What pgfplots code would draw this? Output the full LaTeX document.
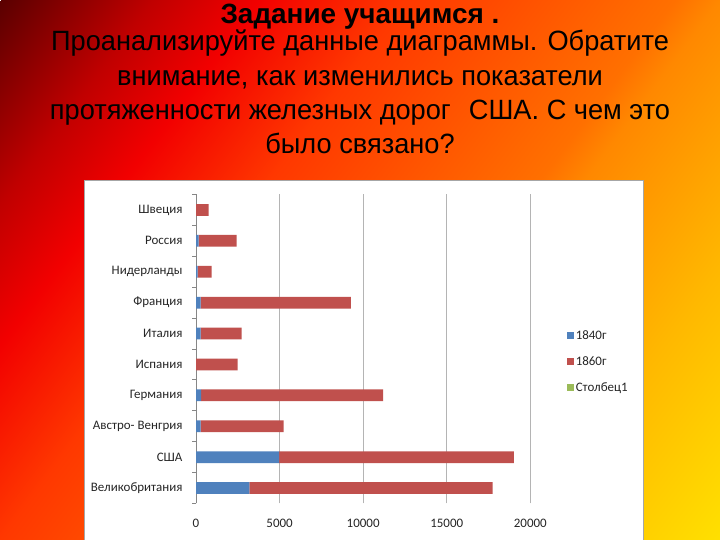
\documentclass[border=0pt]{standalone}
\usepackage{fontspec}
\setmainfont{Liberation Sans}
\newfontfamily\ttl[FakeStretch=0.975]{Liberation Sans}
\newfontfamily\carlito{Carlito}
\usepackage{pgfplots}
\usepackage{pgfplotstable}
\pgfplotsset{compat=1.18}

% slide background, from top left (0bp) to bottom right (100bp)
\definecolor{bg0}{HTML}{5A0000}
\definecolor{bg1}{HTML}{C00000}
\definecolor{bg2}{HTML}{F20000}
\definecolor{bg3}{HTML}{FF3800}
\definecolor{bg4}{HTML}{FF7000}
\definecolor{bg5}{HTML}{FF8800}
\definecolor{bg6}{HTML}{FFB800}
\definecolor{bg7}{HTML}{FFE000}
\pgfdeclarehorizontalshading{slide}{100bp}{color(0bp)=(bg0); color(13.6bp)=(bg1); color(23bp)=(bg2); color(36bp)=(bg3); color(60bp)=(bg4); color(64bp)=(bg5); color(82bp)=(bg6); color(100bp)=(bg7)}

\definecolor{s1840}{HTML}{4F81BD}
\definecolor{s1860}{HTML}{C0504D}
\definecolor{scol1}{HTML}{9BBB59}
\definecolor{axgray}{HTML}{868686}
\definecolor{gridgray}{HTML}{B4B4B4}

\pgfplotsset{sq legend/.style={legend image code/.code={\fill[##1] (0bp,-3.5bp) rectangle (7bp,3.5bp);}}}

% pos: 0 = bottom row
\pgfplotstableread{
pos y1840 y1860
0 3190 14550
1 4980 14040
2 280 4960
3 300 10900
4 0 2490
5 280 2450
6 280 8990
7 100 835
8 150 2280
9 0 750
}\rail

\begin{document}
\begin{tikzpicture}[x=1bp,y=1bp]
\useasboundingbox (0,0) rectangle (720,540);
\clip (0,0) rectangle (720,540);
\node[inner sep=0pt, rotate=-36.87, scale=9] at (360,270) {\pgfuseshading{slide}};

% title
\begin{scope}[every node/.style={anchor=base, inner sep=0pt}]
\node[font=\bfseries\fontsize{28}{30}\selectfont] at (360,516.5) {Задание учащимся .};
\begin{scope}[every node/.append style={font=\ttl\fontsize{28}{30}\selectfont}]
\node at (360,489) {Проанализируйте данные диаграммы. Обратите};
\node at (360,454.5) {внимание, как изменились показатели};
\node at (360,420.5) {протяженности железных дорог\hspace{18bp}США. С чем это};
\node at (360,386) {было связано?};
\end{scope}
\end{scope}

% chart box
\fill[white] (84,0) rectangle (643,360);
\draw[color=black!35, line width=0.8bp] (84,-2) -- (84,360) -- (643,360) -- (643,-2);

\begin{axis}[
    at={(196bp,36.5bp)}, anchor=south west,
    scale only axis,
    width=334.3bp, height=309bp,
    xbar stacked,
    bar width=0.38,
    xmin=0, xmax=20000,
    ymin=-0.5, ymax=9.5,
    axis x line=bottom, axis y line=left,
    x axis line style={draw=none},
    y axis line style={-, draw=axgray, line width=0.8bp},
    xmajorgrids,
    grid style={draw=gridgray, line width=0.8bp},
    xtick={0,5000,10000,15000,20000},
    scaled x ticks=false,
    xtick style={draw=none},
    /pgf/number format/1000 sep={},
    /pgf/number format/assume math mode=true,
    ytick={0,...,9},
    yticklabels={Великобритания, США, Австро- Венгрия, Германия, Испания, Италия, Франция, Нидерланды, Россия, Швеция},
    major y tick style={draw=none},
    minor ytick={-0.5,0.5,...,9.5},
    minor y tick style={draw=axgray, line width=0.8bp},
    minor tick length=4bp,
    major tick length=0bp,
    tick align=outside,
    ticklabel style={font=\carlito\fontsize{13}{15}\selectfont, text=black!85},
    yticklabel style={xshift=-10bp},
    xticklabel style={yshift=-12bp},
    legend style={at={(1.11,0.568)}, anchor=north west, draw=none, fill=none,
        font=\carlito\fontsize{13}{15}\selectfont, text=black!85,
        row sep=12bp, inner sep=0pt, nodes={inner xsep=1.5bp}},
    legend cell align=left,
]
\addplot[fill=s1840, draw=none, sq legend] table[x=y1840, y=pos] {\rail};
\addplot[fill=s1860, draw=none, sq legend] table[x=y1860, y=pos] {\rail};
\addlegendimage{fill=scol1, draw=none, sq legend}
\legend{1840г, 1860г, Столбец1}
\end{axis}
\end{tikzpicture}
\end{document}
